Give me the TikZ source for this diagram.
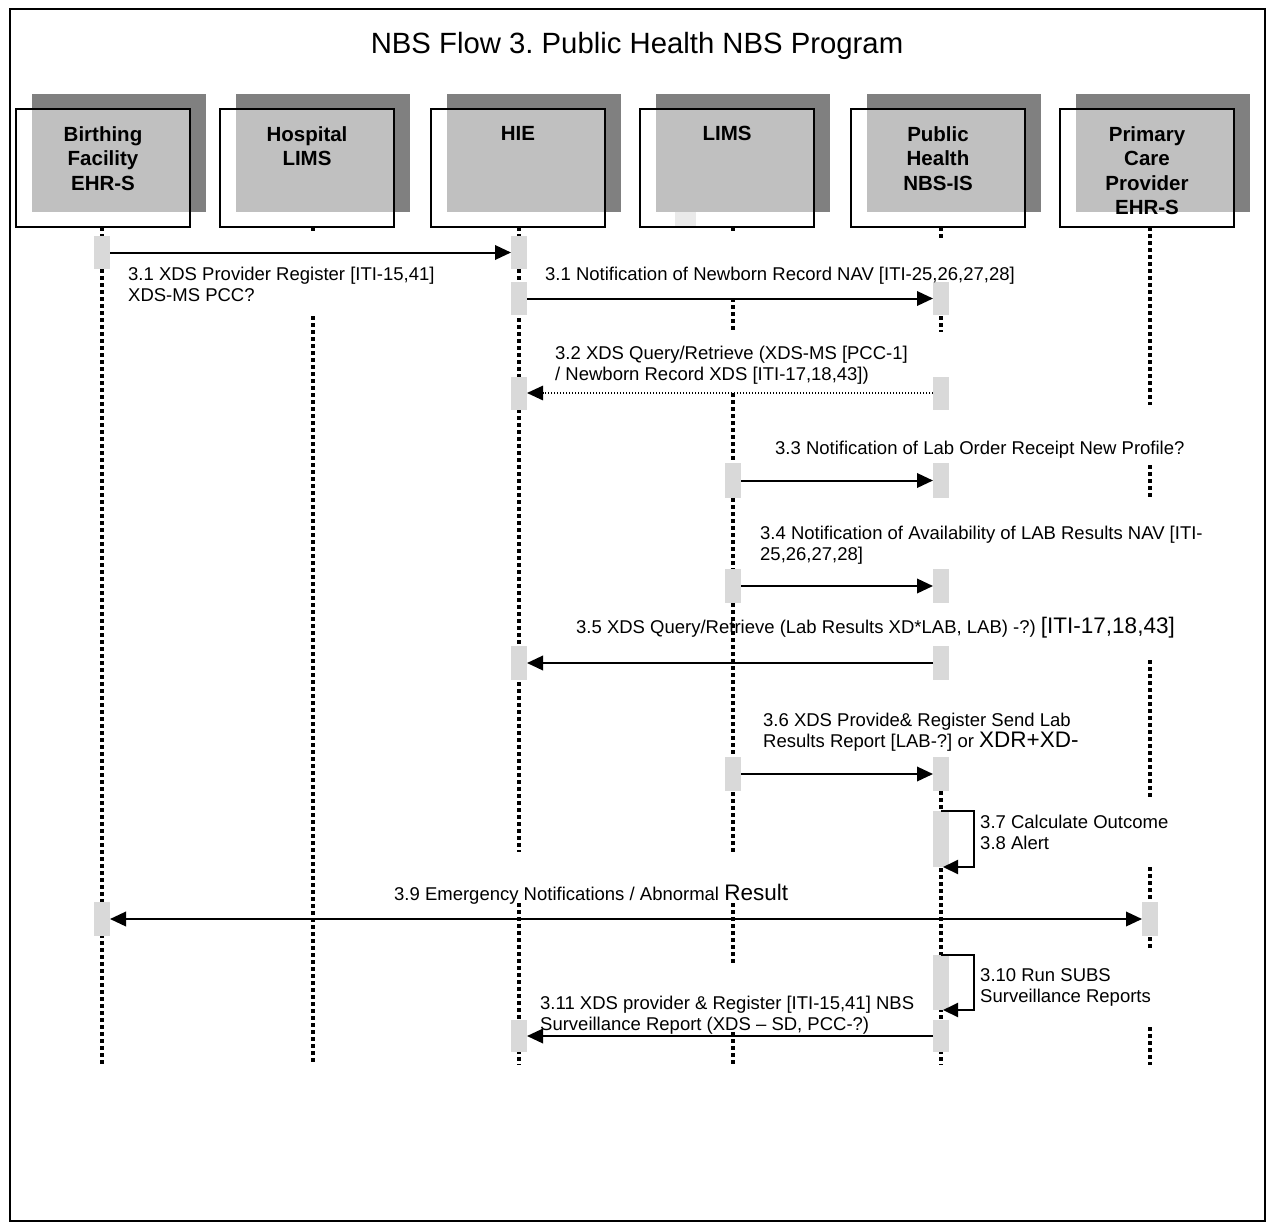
\documentclass[tikz,border=0pt]{standalone}
\usepackage{fontspec}
\setmainfont{Liberation Sans}
\usetikzlibrary{arrows.meta}
\definecolor{shadowgray}{HTML}{808080}
\definecolor{boxgray}{HTML}{C0C0C0}
\definecolor{actgray}{HTML}{D9D9D9}
\definecolor{faintgray}{HTML}{EAEAEA}
\frenchspacing
\newcommand{\biglbl}{\fontsize{22.5}{25}\selectfont}
% header box of one participant: name, centre x, caption
\newcommand{\lifehead}[3]{%
  \node[headframe] (#1) at (#2,168) {};
  \fill[shadowgray] ([shift={(16,-15)}]#1.north west) rectangle ([shift={(16,-15)}]#1.south east);
  \fill[boxgray] ([shift={(16,0)}]#1.north west) rectangle ([shift={(0,-15)}]#1.south east);
  \draw[frameline] (#1.north west) rectangle (#1.south east);
  \node[headtext] (#1-name) at ([shift={(0,17)}]#1.north) {#3};
}
\begin{document}
\begin{tikzpicture}[x=1pt,y=-1pt,
  headframe/.style={draw=none, minimum width=174pt, minimum height=118pt, inner sep=0pt, outer sep=0pt},
  frameline/.style={draw=black, line width=2pt},
  headtext/.style={font=\fontsize{20.5}{24.5}\selectfont\bfseries, align=center, anchor=north, inner sep=0pt},
  actbox/.style={fill=actgray, draw=none, minimum width=16pt, minimum height=33pt, inner sep=0pt, outer sep=0pt},
  lifeline/.style={line width=3.5pt, dash pattern=on 3.5pt off 3.5pt},
  tip/.style={-{Triangle[length=16pt,width=14.5pt]}},
  msg/.style={line width=2pt, tip},
  dotmsg/.style={line width=1.4pt, dash pattern=on 1.4pt off 1.6pt, tip},
  bothmsg/.style={line width=2pt, {Triangle[length=16pt,width=14.5pt]}-{Triangle[length=16pt,width=14.5pt]}},
  selfmsg/.style={line width=2pt, -{Triangle[length=15pt,width=14pt]}},
  lbl/.style={font=\fontsize{18.5}{21}\selectfont, align=left, inner sep=0pt},
  title/.style={font=\fontsize{29.3}{34}\selectfont, inner sep=0pt}
]
\useasboundingbox (0,0) rectangle (1273,1228);
\draw[line width=2pt] (10,9) rectangle (1265,1221);

\node[title] (title) at (637,46) {NBS Flow 3. Public Health NBS Program};

% participants
\lifehead{bf}{103}{Birthing\\Facility\\EHR-S}
\lifehead{hl}{307}{Hospital\\LIMS}
\lifehead{hie}{518}{HIE}
\lifehead{lims}{727}{LIMS}
\lifehead{ph}{938}{Public\\Health\\NBS-IS}
\lifehead{pc}{1147}{Primary\\Care\\Provider\\EHR-S}
\fill[faintgray] (675,212) rectangle (696,226);

% lifelines (broken where labels sit on top of them)
\foreach \a/\b in {227/1065} \draw[lifeline] (102,\a) -- (102,\b);
\foreach \a/\b in {227/233, 316/1065} \draw[lifeline] (313,\a) -- (313,\b);
\foreach \a/\b in {227/852, 903/1065} \draw[lifeline] (519,\a) -- (519,\b);
\foreach \a/\b in {227/233, 298/332, 393/852, 903/965, 1032/1065} \draw[lifeline] (733,\a) -- (733,\b);
\foreach \a/\b in {227/240, 316/332, 791/1065} \draw[lifeline] (941,\a) -- (941,\b);
\foreach \a/\b in {227/405, 465/497, 660/800, 867/950, 1027/1065} \draw[lifeline] (1150,\a) -- (1150,\b);

% activations
\node[actbox] (b1) at (102,252.5) {};
\node[actbox] (h1) at (519,252.5) {};
\node[actbox] (h2) at (519,298.5) {};
\node[actbox] (p1) at (941,298.5) {};
\node[actbox] (h3) at (519,393) {};
\node[actbox] (p2) at (941,393) {};
\node[actbox, minimum height=35pt] (l1) at (733,480.5) {};
\node[actbox, minimum height=35pt] (p3) at (941,480.5) {};
\node[actbox, minimum height=34pt] (l2) at (733,586) {};
\node[actbox, minimum height=34pt] (p4) at (941,586) {};
\node[actbox, minimum height=34pt] (p5) at (941,663) {};
\node[actbox, minimum height=34pt] (h4) at (519,663) {};
\node[actbox, minimum height=34pt] (l3) at (733,774) {};
\node[actbox, minimum height=34pt] (p6) at (941,774) {};
\node[actbox, minimum height=56pt] (p7) at (941,839) {};
\node[actbox, minimum height=34pt] (b2) at (102,919) {};
\node[actbox, minimum height=34pt] (c1) at (1150,919) {};
\node[actbox, minimum height=55pt] (p8) at (941,982.5) {};
\node[actbox, minimum height=32pt] (p9) at (941,1036) {};
\node[actbox, minimum height=32pt] (h5) at (519,1036) {};

% messages
\draw[msg] (b1.east) -- (h1.west);
\draw[msg] (h2.east) -- (p1.west);
\draw[dotmsg] (p2.west) -- (h3.east);
\draw[msg] (l1.east) -- (p3.west);
\draw[msg] (l2.east) -- (p4.west);
\draw[msg] (p5.west) -- (h4.east);
\draw[msg] (l3.east) -- (p6.west);
\draw[selfmsg] (p7.north) -- ++(33,0) |- ([shift={(2,0)}]p7.south);
\draw[bothmsg] (b2.east) -- (c1.west);
\draw[selfmsg] (p8.north) -- ++(33,0) |- ([shift={(2,0)}]p8.south);
\draw[msg] (p9.west) -- (h5.east);

% message labels
\node[lbl, anchor=north west] (m31a) at (128,267) {3.1 XDS Provider Register [ITI-15,41]\\XDS-MS PCC?};
\node[lbl, anchor=base west] (m31b) at (545,280) {3.1 Notification of Newborn Record NAV [ITI-25,26,27,28]};
\node[lbl, anchor=north west] (m32) at (555,346) {3.2 XDS Query/Retrieve (XDS-MS [PCC-1]\\/ Newborn Record XDS [ITI-17,18,43])};
\node[lbl, anchor=base west] (m33) at (775,454) {3.3 Notification of Lab Order Receipt New Profile?};
\node[lbl, anchor=north west] (m34) at (760,526) {3.4 Notification of Availability of LAB Results NAV [ITI-\\25,26,27,28]};
\node[lbl, anchor=base west] (m35) at (576,633) {3.5 XDS Query/Retrieve (Lab Results XD*LAB, LAB) -?) {\biglbl [ITI-17,18,43]}};
\node[lbl, anchor=north west] (m36) at (763,713) {3.6 XDS Provide\& Register Send Lab\\Results Report [LAB-?] or {\biglbl XDR+XD-}};
\node[lbl, anchor=north west] (m378) at (980,815) {3.7 Calculate Outcome\\3.8 Alert};
\node[lbl, anchor=base west] (m39) at (394,900) {3.9 Emergency Notifications / Abnormal {\biglbl Result}};
\node[lbl, anchor=north west] (m310) at (980,968) {3.10 Run SUBS\\Surveillance Reports};
\node[lbl, anchor=north west] (m311) at (540,996) {3.11 XDS provider \& Register [ITI-15,41] NBS\\Surveillance Report (XDS – SD, PCC-?)};
\end{tikzpicture}
\end{document}
